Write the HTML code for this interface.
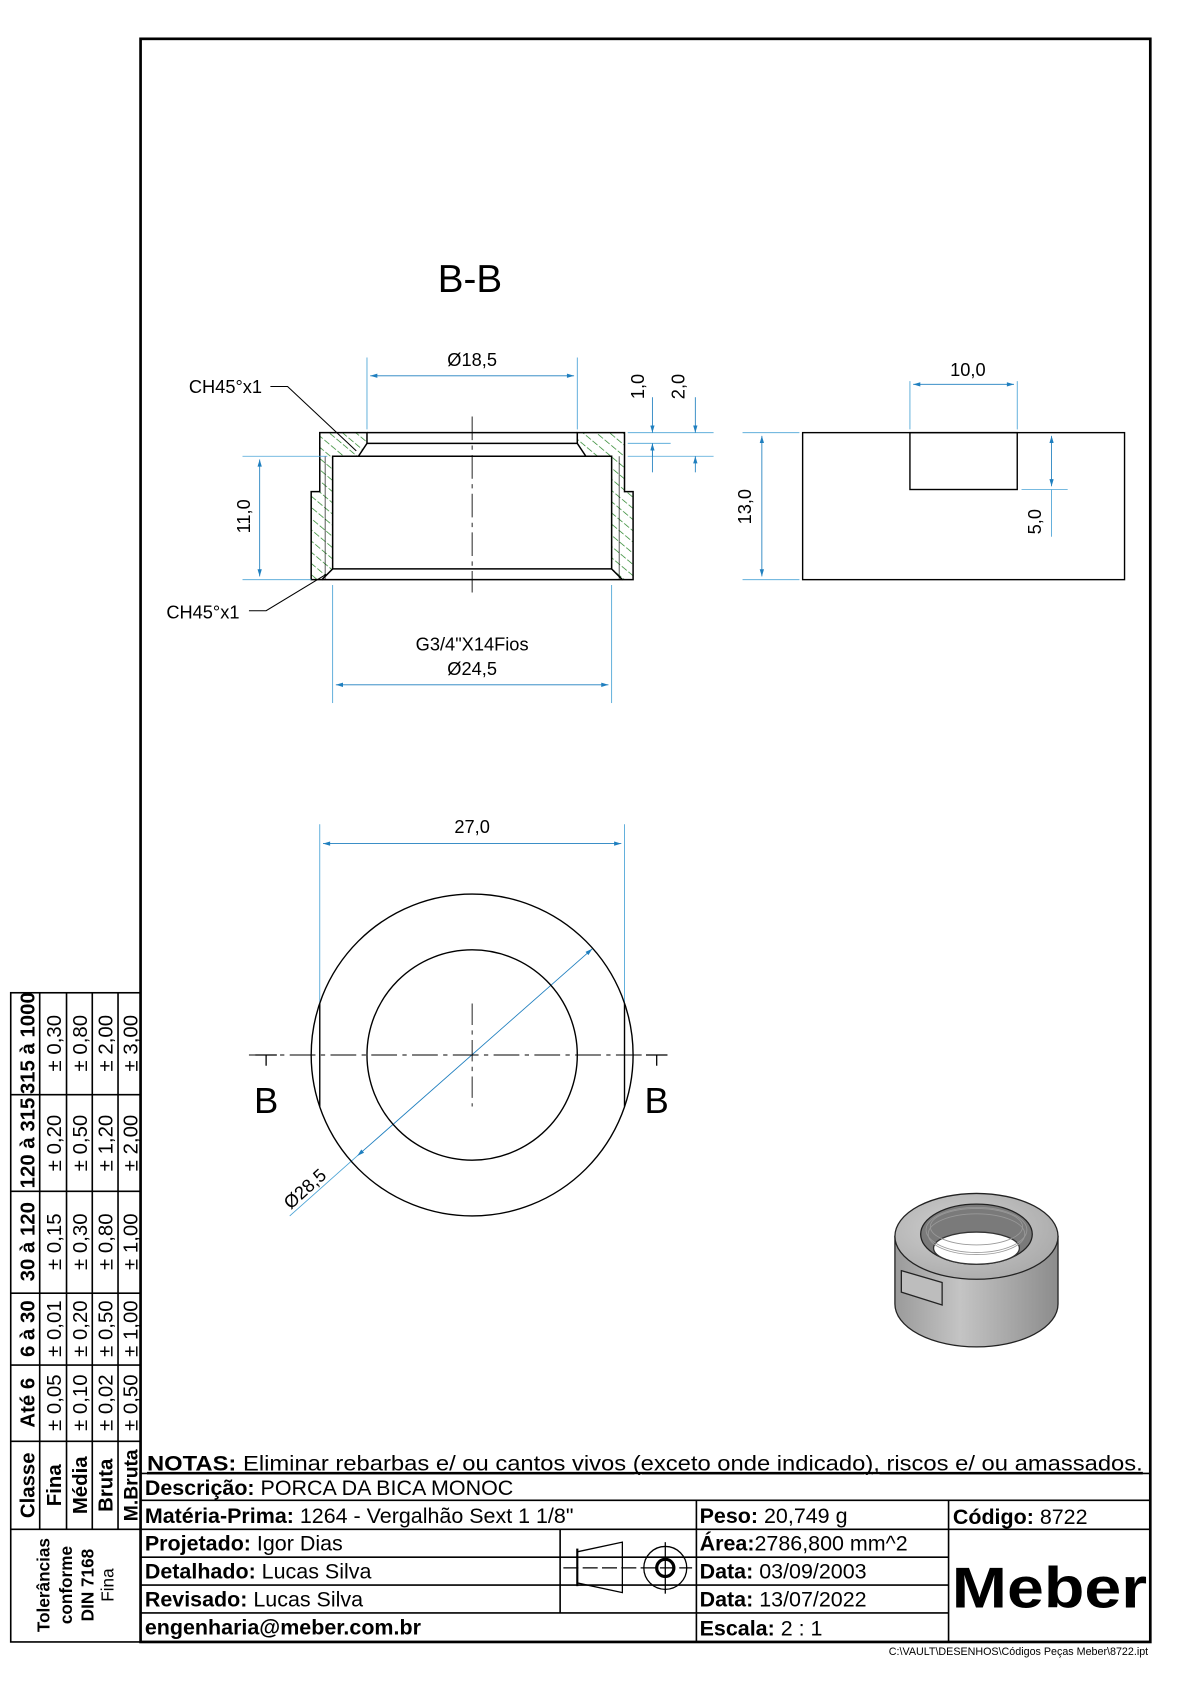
<!DOCTYPE html>
<html><head><meta charset="utf-8"><style>
html,body{margin:0;padding:0;background:#fff;}
svg{display:block;}
text{font-family:"Liberation Sans",Arial,sans-serif;}
.n{font-family:"Liberation Sans Narrow","Liberation Sans",sans-serif;}
</style></head><body>
<svg width="1190" height="1684" viewBox="0 0 1109 1569" xmlns="http://www.w3.org/2000/svg">
<defs>
<pattern id="h" width="8" height="8" patternUnits="userSpaceOnUse" patternTransform="rotate(-50)">
<line x1="0" y1="0" x2="0" y2="8" stroke="#1f7f1f" stroke-width="1.3" stroke-dasharray="5 2"/>
</pattern>
<marker id="a" viewBox="0 0 10 6" refX="10" refY="3" markerWidth="9" markerHeight="5" orient="auto-start-reverse"><path d="M0,0 L10,3 L0,6z" fill="#1f7fbf"/></marker>
<radialGradient id="g1" cx="0.4" cy="0.4" r="0.7"><stop offset="0" stop-color="#d0d0d0"/><stop offset="1" stop-color="#a8a8a8"/></radialGradient>
<linearGradient id="g2" x1="0" x2="1"><stop offset="0" stop-color="#9a9a9a"/><stop offset="0.4" stop-color="#c4c4c4"/><stop offset="1" stop-color="#8c8c8c"/></linearGradient>
</defs>
<rect x="131" y="36" width="941" height="1494" fill="none" stroke="#000" stroke-width="2.5"/>

<text x="438" y="272" font-size="36" text-anchor="middle">B-B</text>

<g stroke="#000" stroke-width="1.4">
<path d="M298,403 H342 V413 L334,425 H310 V530 L300,540 H290 V458 H298 Z" fill="url(#h)"/>
<path d="M582,403 H538 V413 L546,425 H570 V530 L580,540 H590 V458 H582 Z" fill="url(#h)"/>
<path d="M342,403 H538 M342,413 H538 M310,425 H570 M310,530 H570 M300,540 H580" fill="none"/>
<line x1="303" y1="425" x2="303" y2="540" stroke-width="0.6"/>
<line x1="577" y1="425" x2="577" y2="540" stroke-width="0.6"/>
</g>
<line x1="440" y1="388" x2="440" y2="552" stroke="#000" stroke-width="0.8" stroke-dasharray="22 5 4 5"/>
<g stroke="#000" stroke-width="1" fill="none">
<path d="M252,360 H268 L332,420"/>
<path d="M232,569 H248 L304,535"/>
</g>
<text x="176" y="366" font-size="17">CH45°x1</text>
<text x="155" y="576" font-size="17">CH45°x1</text>
<g stroke="#4aa3d6" stroke-width="0.8" fill="none">
<line x1="342" y1="333" x2="342" y2="400"/><line x1="538" y1="333" x2="538" y2="400"/>
<line x1="345" y1="350" x2="535" y2="350" marker-start="url(#a)" marker-end="url(#a)" stroke="#1f7fbf"/>
<line x1="585" y1="403" x2="665" y2="403"/><line x1="585" y1="413" x2="625" y2="413"/><line x1="585" y1="425" x2="665" y2="425"/>
<line x1="608" y1="370" x2="608" y2="403" marker-end="url(#a)" stroke="#1f7fbf"/><line x1="608" y1="413" x2="608" y2="425"/>
<line x1="608" y1="440" x2="608" y2="413" marker-end="url(#a)" stroke="#1f7fbf"/>
<line x1="648" y1="370" x2="648" y2="403" marker-end="url(#a)" stroke="#1f7fbf"/>
<line x1="648" y1="440" x2="648" y2="425" marker-end="url(#a)" stroke="#1f7fbf"/>
<line x1="226" y1="425" x2="305" y2="425"/><line x1="226" y1="540" x2="290" y2="540"/>
<line x1="242" y1="428" x2="242" y2="537" marker-start="url(#a)" marker-end="url(#a)" stroke="#1f7fbf"/>
<line x1="310" y1="545" x2="310" y2="655"/><line x1="570" y1="545" x2="570" y2="655"/>
<line x1="313" y1="638" x2="567" y2="638" marker-start="url(#a)" marker-end="url(#a)" stroke="#1f7fbf"/>
<line x1="848" y1="355" x2="848" y2="400"/><line x1="948" y1="355" x2="948" y2="400"/>
<line x1="851" y1="358" x2="945" y2="358" marker-start="url(#a)" marker-end="url(#a)" stroke="#1f7fbf"/>
<line x1="692" y1="403" x2="745" y2="403"/><line x1="692" y1="540" x2="745" y2="540"/>
<line x1="710" y1="406" x2="710" y2="537" marker-start="url(#a)" marker-end="url(#a)" stroke="#1f7fbf"/>
<line x1="952" y1="456" x2="995" y2="456"/>
<line x1="980" y1="406" x2="980" y2="453" marker-start="url(#a)" marker-end="url(#a)" stroke="#1f7fbf"/>
<line x1="980" y1="456" x2="980" y2="500"/>
<line x1="298" y1="768" x2="298" y2="935"/><line x1="582" y1="768" x2="582" y2="935"/>
<line x1="301" y1="786" x2="579" y2="786" marker-start="url(#a)" marker-end="url(#a)" stroke="#1f7fbf"/>
<line x1="333" y1="1077" x2="552" y2="884" marker-start="url(#a)" marker-end="url(#a)" stroke="#1f7fbf"/>
<line x1="333" y1="1077" x2="270" y2="1133"/>
</g>
<text x="440" y="341" font-size="17" text-anchor="middle">Ø18,5</text>
<text x="600" y="360" font-size="17" text-anchor="middle" transform="rotate(-90 600 360)">1,0</text>
<text x="638" y="360" font-size="17" text-anchor="middle" transform="rotate(-90 638 360)">2,0</text>
<text x="233" y="481" font-size="17" text-anchor="middle" transform="rotate(-90 233 481)">11,0</text>
<text x="440" y="606" font-size="17" text-anchor="middle">G3/4"X14Fios</text>
<text x="440" y="629" font-size="17" text-anchor="middle">Ø24,5</text>
<text x="902" y="350" font-size="17" text-anchor="middle">10,0</text>
<text x="700" y="472" font-size="17" text-anchor="middle" transform="rotate(-90 700 472)">13,0</text>
<text x="970" y="486" font-size="17" text-anchor="middle" transform="rotate(-90 970 486)">5,0</text>
<text x="440" y="776" font-size="17" text-anchor="middle">27,0</text>
<text x="288" y="1112" font-size="17" text-anchor="middle" transform="rotate(-42 288 1112)">Ø28,5</text>

<g stroke="#000" stroke-width="1.3" fill="none">
<rect x="748" y="403" width="300" height="137"/>
<rect x="848" y="403" width="100" height="53"/>
</g>

<g stroke="#000" stroke-width="1.3" fill="none">
<circle cx="440" cy="983" r="150"/>
<circle cx="440" cy="983" r="98"/>
<line x1="298" y1="935" x2="298" y2="1031"/>
<line x1="582" y1="935" x2="582" y2="1031"/>
</g>
<line x1="232" y1="983" x2="622" y2="983" stroke="#000" stroke-width="0.9" stroke-dasharray="24 5 4 5"/>
<line x1="440" y1="935" x2="440" y2="1031" stroke="#000" stroke-width="0.8" stroke-dasharray="20 5 4 5"/>
<g stroke="#000" stroke-width="1.2"><line x1="238" y1="983" x2="258" y2="983"/><line x1="248" y1="983" x2="248" y2="993"/><line x1="602" y1="983" x2="622" y2="983"/><line x1="612" y1="983" x2="612" y2="993"/></g>
<text x="248" y="1037" font-size="34" text-anchor="middle">B</text>
<text x="612" y="1037" font-size="34" text-anchor="middle">B</text>

<g stroke="#222" stroke-width="1.2">
<path d="M834,1152 V1215 A76,40 0 0 0 986,1215 V1152 Z" fill="url(#g2)"/>
<ellipse cx="910" cy="1152" rx="76" ry="40" fill="url(#g1)"/>
<ellipse cx="910" cy="1150" rx="52" ry="28" fill="#7a7a7a"/>
<ellipse cx="910" cy="1163" rx="40" ry="15" fill="#fff" stroke="#333"/>
<path d="M840,1184 L878,1195 V1216 L840,1204 Z" fill="#bdbdbd"/>
</g>
<g stroke="#999" stroke-width="0.8" fill="none"><ellipse cx="910" cy="1146" rx="47" ry="21"/><ellipse cx="910" cy="1143" rx="43" ry="17"/><ellipse cx="910" cy="1150" rx="45" ry="19"/></g>

<g stroke="#000" stroke-width="1.5" fill="none">
<rect x="10" y="925" width="121" height="605"/>
<line x1="37" y1="925" x2="37" y2="1425"/><line x1="62" y1="925" x2="62" y2="1425"/><line x1="86" y1="925" x2="86" y2="1425"/><line x1="110" y1="925" x2="110" y2="1425"/>
<line x1="10" y1="1020" x2="131" y2="1020"/><line x1="10" y1="1110" x2="131" y2="1110"/><line x1="10" y1="1205" x2="131" y2="1205"/><line x1="10" y1="1272" x2="131" y2="1272"/><line x1="10" y1="1343" x2="131" y2="1343"/><line x1="10" y1="1425" x2="131" y2="1425"/>
</g>
<g font-size="19" text-anchor="middle" class="n">
<g font-weight="bold">
<text transform="translate(32,972) rotate(-90)">315 à 1000</text>
<text transform="translate(32,1065) rotate(-90)">120 à 315</text>
<text transform="translate(32,1157) rotate(-90)">30 à 120</text>
<text transform="translate(32,1238) rotate(-90)">6 à 30</text>
<text transform="translate(32,1307) rotate(-90)">Até 6</text>
<text transform="translate(32,1384) rotate(-90)">Classe</text>
<text transform="translate(57,1384) rotate(-90)">Fina</text>
<text transform="translate(81,1384) rotate(-90)">Média</text>
<text transform="translate(105,1384) rotate(-90)">Bruta</text>
<text transform="translate(128,1384) rotate(-90)" font-size="18">M.Bruta</text>
</g>
<text transform="translate(57,972) rotate(-90)">± 0,30</text><text transform="translate(57,1065) rotate(-90)">± 0,20</text><text transform="translate(57,1157) rotate(-90)">± 0,15</text><text transform="translate(57,1238) rotate(-90)">± 0,01</text><text transform="translate(57,1307) rotate(-90)">± 0,05</text>
<text transform="translate(81,972) rotate(-90)">± 0,80</text><text transform="translate(81,1065) rotate(-90)">± 0,50</text><text transform="translate(81,1157) rotate(-90)">± 0,30</text><text transform="translate(81,1238) rotate(-90)">± 0,20</text><text transform="translate(81,1307) rotate(-90)">± 0,10</text>
<text transform="translate(105,972) rotate(-90)">± 2,00</text><text transform="translate(105,1065) rotate(-90)">± 1,20</text><text transform="translate(105,1157) rotate(-90)">± 0,80</text><text transform="translate(105,1238) rotate(-90)">± 0,50</text><text transform="translate(105,1307) rotate(-90)">± 0,02</text>
<text transform="translate(128,972) rotate(-90)">± 3,00</text><text transform="translate(128,1065) rotate(-90)">± 2,00</text><text transform="translate(128,1157) rotate(-90)">± 1,00</text><text transform="translate(128,1238) rotate(-90)">± 1,00</text><text transform="translate(128,1307) rotate(-90)">± 0,50</text>
<g font-weight="bold" font-size="16">
<text transform="translate(46,1477) rotate(-90)">Tolerâncias</text>
<text transform="translate(67,1477) rotate(-90)">conforme</text>
<text transform="translate(87,1477) rotate(-90)">DIN 7168</text>
<text transform="translate(106,1477) rotate(-90)" font-weight="normal">Fina</text>
</g>
</g>

<g stroke="#000" stroke-width="1.5" fill="none">
<line x1="131" y1="1373" x2="1072" y2="1373"/>
<line x1="131" y1="1398" x2="1072" y2="1398"/>
<line x1="131" y1="1425" x2="1072" y2="1425"/>
<line x1="131" y1="1451" x2="884" y2="1451"/>
<line x1="131" y1="1477" x2="884" y2="1477"/>
<line x1="131" y1="1503" x2="884" y2="1503"/>
<line x1="522" y1="1425" x2="522" y2="1503"/>
<line x1="649" y1="1398" x2="649" y2="1530"/>
<line x1="884" y1="1398" x2="884" y2="1530"/>
</g>
<g class="n" font-size="20">
<text x="137" y="1370" textLength="928" lengthAdjust="spacingAndGlyphs" text-decoration="underline"><tspan font-weight="bold">NOTAS:</tspan> Eliminar rebarbas e/ ou cantos vivos (exceto onde indicado), riscos e/ ou amassados.</text>
<line x1="137" y1="1372" x2="1065" y2="1372" stroke="#000" stroke-width="1"/>
<text x="135" y="1393"><tspan font-weight="bold">Descrição:</tspan> PORCA DA BICA MONOC</text>
<text x="135" y="1419"><tspan font-weight="bold">Matéria-Prima:</tspan> 1264 - Vergalhão Sext 1 1/8"</text>
<text x="135" y="1445"><tspan font-weight="bold">Projetado:</tspan> Igor Dias</text>
<text x="135" y="1471"><tspan font-weight="bold">Detalhado:</tspan> Lucas Silva</text>
<text x="135" y="1497"><tspan font-weight="bold">Revisado:</tspan> Lucas Silva</text>
<text x="135" y="1523" font-weight="bold">engenharia@meber.com.br</text>
<text x="652" y="1419"><tspan font-weight="bold">Peso:</tspan> 20,749 g</text>
<text x="652" y="1445"><tspan font-weight="bold">Área:</tspan>2786,800 mm^2</text>
<text x="652" y="1471"><tspan font-weight="bold">Data:</tspan> 03/09/2003</text>
<text x="652" y="1497"><tspan font-weight="bold">Data:</tspan> 13/07/2022</text>
<text x="652" y="1524"><tspan font-weight="bold">Escala:</tspan> 2 : 1</text>
<text x="888" y="1420" font-family="Liberation Sans"><tspan font-weight="bold">Código:</tspan> 8722</text>
</g>
<text x="978" y="1498" font-size="54" font-weight="bold" text-anchor="middle" textLength="182" lengthAdjust="spacingAndGlyphs">Meber</text>
<g stroke="#000" stroke-width="1.2" fill="none">
<path d="M538,1446 L580,1437 V1484 L538,1475 Z"/>
<line x1="538" y1="1443" x2="538" y2="1478" stroke-width="2"/>
<line x1="525" y1="1461" x2="645" y2="1461" stroke-dasharray="14 4"/>
<circle cx="620" cy="1461" r="20"/>
<circle cx="620" cy="1461" r="8" stroke-width="3"/>
<line x1="620" y1="1437" x2="620" y2="1485"/>
</g>
<text x="1070" y="1542" font-size="10" text-anchor="end">C:\VAULT\DESENHOS\Códigos Peças Meber\8722.ipt</text>
</svg>
</body></html>
